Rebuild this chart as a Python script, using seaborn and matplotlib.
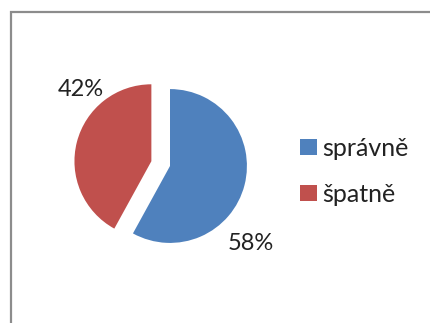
import matplotlib
matplotlib.use("Agg")
import matplotlib.pyplot as plt
from matplotlib.patches import Rectangle, Patch
import seaborn as sns

# Answer shares
categories = ["správně", "špatně"]
shares = [58, 42]
explode_amount = [0.0, 0.25]

sns.set_theme(style="white")
plt.rcParams["font.family"] = ["Lato", "DejaVu Sans"]

colors = ["#4F81BD", "#C0504D"]

W, H = 430, 323
fig = plt.figure(figsize=(W / 100, H / 100), dpi=100)
fig.patch.set_facecolor("white")

# chart frame (runs off the right and bottom edges)
fig.patches.append(Rectangle((10.5 / W, -0.1), 1.2, 1.1 - 11.5 / H,
                             transform=fig.transFigure, fill=False,
                             edgecolor="#8c8c8c", linewidth=1.6, zorder=0))

ax = fig.add_axes([70 / W, 57 / H, 200 / W, 200 / H])
wedges, _ = ax.pie(shares, colors=colors, startangle=90, counterclock=False,
                   explode=explode_amount, radius=1.0,
                   wedgeprops=dict(linewidth=0))
ax.set_xlim(-1.3, 1.3)
ax.set_ylim(-1.3, 1.3)
ax.set_aspect("equal")
ax.axis("off")

label_pos = [(1.045, -1.006), (-1.162, 1.0)]
for val, (lx, ly) in zip(shares, label_pos):
    ax.text(lx, ly, f"{val}%", ha="center", va="center", fontsize=17,
            color="#222222")

handles = [Patch(facecolor=c, edgecolor="none") for c in colors]
fig.legend(handles, categories, loc="upper left",
           bbox_to_anchor=(300 / W, 1 - 137 / H), frameon=False,
           fontsize=18, handlelength=0.68, handleheight=0.6,
           handletextpad=0.2, labelspacing=0.92, borderpad=0,
           borderaxespad=0, labelcolor="#222222")

fig.savefig("out.png", dpi=100, facecolor="white")
